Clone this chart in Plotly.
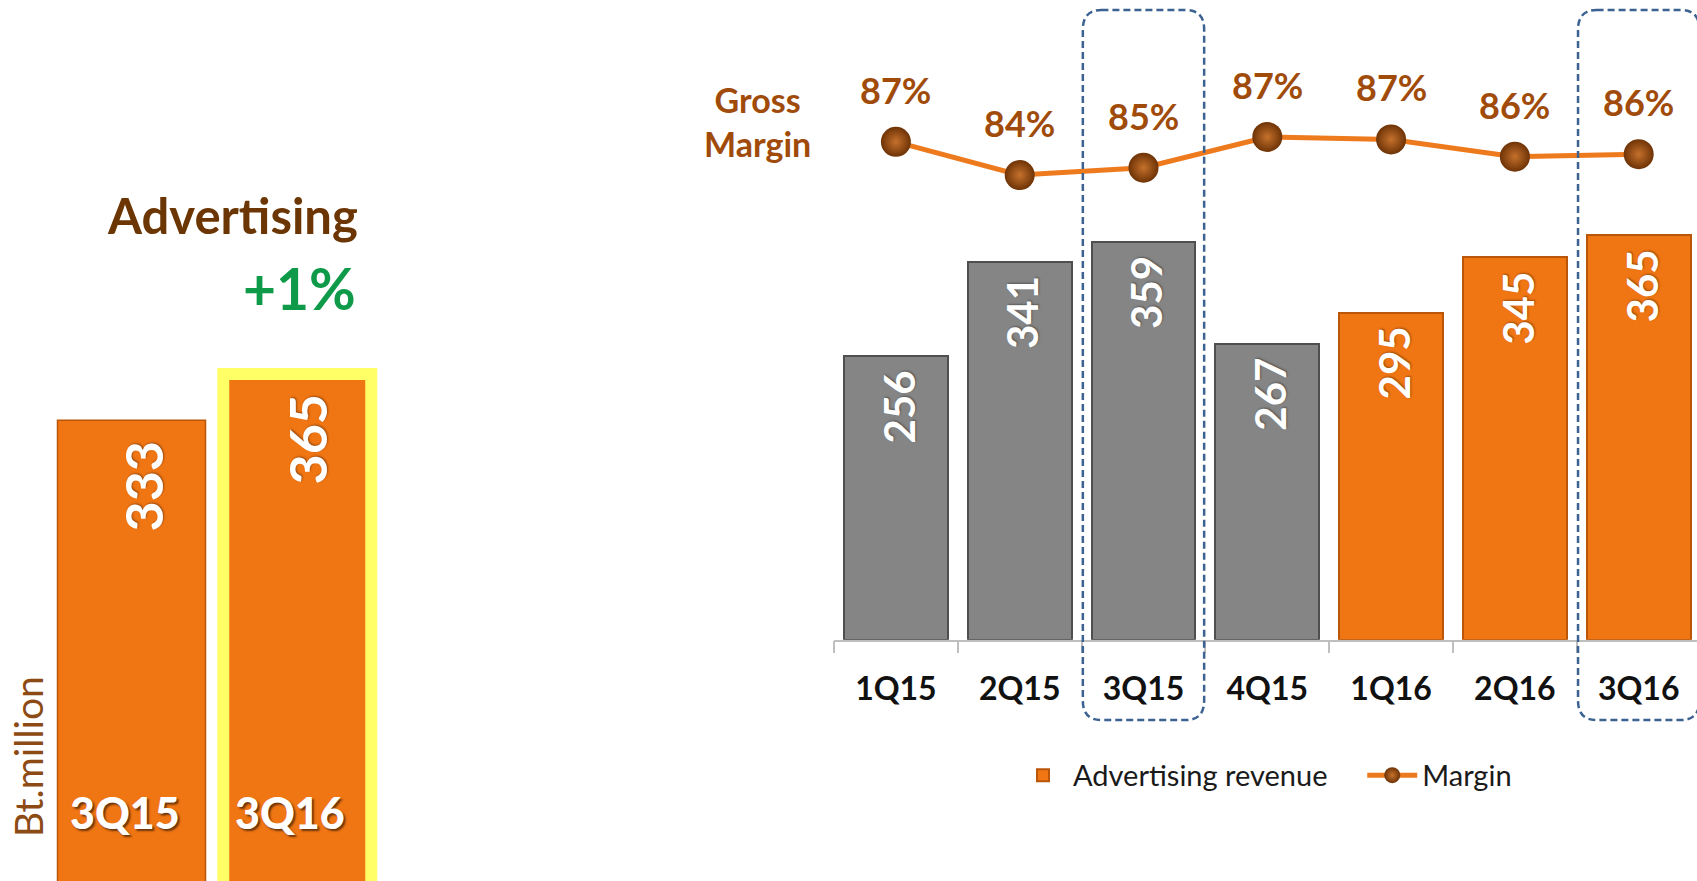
import plotly.graph_objects as go

# ---------------- data ----------------
quarters = ["1Q15", "2Q15", "3Q15", "4Q15", "1Q16", "2Q16", "3Q16"]
ad_revenue = [256, 341, 359, 267, 295, 345, 365]
margin_pct = [86.9, 84.2, 84.8, 87.3, 87.1, 85.7, 85.9]
margin_labels = ["87%", "84%", "85%", "87%", "87%", "86%", "86%"]
year_2015 = ["1Q15", "2Q15", "3Q15", "4Q15"]
year_2016 = ["1Q16", "2Q16", "3Q16"]
highlight = ["3Q15", "3Q16"]

yoy_quarters = ["3Q15", "3Q16"]
yoy_values = [333, 365]
title_text = "Advertising"
growth_text = "+1%"
unit_text = "Bt.million"
margin_title = "Gross<br>Margin"
bar_series_name = "Advertising revenue"
line_series_name = "Margin"

# ---------------- styles ----------------
ORANGE = "#F07513"
ORANGE_EDGE = "#B9560A"
GRAY = "#858585"
GRAY_EDGE = "#4F4F4F"
BROWN = "#A04B0A"
FONT = "Lato, 'Open Sans', sans-serif"
LEGEND_PAD = "\u00a0" * 4

fig = go.Figure()

# right chart: quarterly bars
g_x = [q for q in quarters if q in year_2015]
g_y = [v for q, v in zip(quarters, ad_revenue) if q in year_2015]
o_x = [q for q in quarters if q in year_2016]
o_y = [v for q, v in zip(quarters, ad_revenue) if q in year_2016]

fig.add_trace(go.Bar(x=g_x, y=g_y, width=0.84, marker=dict(color=GRAY, line=dict(color=GRAY_EDGE, width=2)),
                     showlegend=False, xaxis="x", yaxis="y", hoverinfo="skip"))
fig.add_trace(go.Bar(x=o_x, y=o_y, width=0.84, name=bar_series_name + LEGEND_PAD,
                     marker=dict(color=ORANGE, line=dict(color=ORANGE_EDGE, width=2)),
                     xaxis="x", yaxis="y", hoverinfo="skip"))
fig.add_trace(go.Scatter(x=quarters, y=margin_pct, name=line_series_name, mode="lines+markers",
                         line=dict(color="#EE7A1E", width=5),
                         marker=dict(size=30, color="#6E3306",
                                     gradient=dict(type="radial", color="#C5712C"),
                                     line=dict(width=0)),
                         xaxis="x", yaxis="y3", hoverinfo="skip"))

# left chart: year-on-year
fig.add_trace(go.Bar(x=yoy_quarters, y=yoy_values, width=0.9,
                     marker=dict(color=ORANGE,
                                 line=dict(color=[ORANGE_EDGE, "#FFFF66"], width=[1.5, 12])),
                     showlegend=False, xaxis="x2", yaxis="y2", hoverinfo="skip"))

annotations = []
# bar value labels (rotated)
for q, v in zip(quarters, ad_revenue):
    annotations.append(dict(x=q, y=v, xref="x", yref="y", text=str(v), textangle=-90,
                            showarrow=False, yanchor="top", xanchor="center", yshift=-12, xshift=3,
                            font=dict(family=FONT, size=42, color="white", weight="bold",
                                      shadow="1px 1px 2px rgba(0,0,0,0.35)")))
# margin labels
for q, m, lab in zip(quarters, margin_pct, margin_labels):
    annotations.append(dict(x=q, y=m, xref="x", yref="y3", text=lab, showarrow=False,
                            yanchor="bottom", xanchor="center", yshift=28,
                            font=dict(family=FONT, size=36, color=BROWN, weight="bold")))
# left chart value labels
for q, v in zip(yoy_quarters, yoy_values):
    annotations.append(dict(x=q, y=v, xref="x2", yref="y2", text=str(v), textangle=-90,
                            showarrow=False, yanchor="top", xanchor="center", yshift=-18, xshift=10,
                            font=dict(family=FONT, size=52, color="white", weight="bold",
                                      shadow="1px 1px 2px rgba(0,0,0,0.35)")))
    annotations.append(dict(x=q, y=0.0772, xref="x2", yref="paper", text=q, showarrow=False,
                            yanchor="middle", xanchor="center", xshift=-7,
                            font=dict(family=FONT, size=43, color="white", weight=900,
                                      shadow="2px 2px 2px rgba(0,0,0,0.55)")))

annotations += [
    dict(x=360 / 1697, y=0.7555, xref="paper", yref="paper", text=title_text, showarrow=False,
         xanchor="right", yanchor="middle",
         font=dict(family=FONT, size=49, color="#6B3604", weight="bold")),
    dict(x=358 / 1697, y=0.6727, xref="paper", yref="paper", text=growth_text, showarrow=False,
         xanchor="right", yanchor="middle",
         font=dict(family=FONT, size=57, color="#0E9A48", weight="bold")),
    dict(x=28 / 1697, y=0.1407, xref="paper", yref="paper", text=unit_text, showarrow=False,
         textangle=-90, xanchor="center", yanchor="middle",
         font=dict(family=FONT, size=39, color="#8C4A14")),
    dict(x=757 / 1697, y=0.8626, xref="paper", yref="paper", text=margin_title, showarrow=False,
         xanchor="center", yanchor="middle", align="center",
         font=dict(family=FONT, size=34, color=BROWN, weight="bold")),
]

# dashed rounded highlight boxes
shapes = []
for q in highlight:
    i = quarters.index(q)
    x0, x1 = i - 0.49, i + 0.49
    y0, y1 = 0.1827, 0.9886
    rx, ry = 0.15, 0.022
    path = (f"M{x0 + rx},{y1} L{x1 - rx},{y1} Q{x1},{y1} {x1},{y1 - ry} "
            f"L{x1},{y0 + ry} Q{x1},{y0} {x1 - rx},{y0} L{x0 + rx},{y0} "
            f"Q{x0},{y0} {x0},{y0 + ry} L{x0},{y1 - ry} Q{x0},{y1} {x0 + rx},{y1} Z")
    shapes.append(dict(type="path", path=path, xref="x", yref="paper",
                       line=dict(color="#3B6290", width=2.5, dash="7px,4px"), layer="above"))

fig.update_layout(
    width=1697, height=881, autosize=False,
    margin=dict(l=0, r=0, t=0, b=0),
    paper_bgcolor="white", plot_bgcolor="rgba(0,0,0,0)",
    barmode="overlay", bargap=0,
    showlegend=True,
    legend=dict(orientation="h", x=1013 / 1697, y=0.12, xanchor="left", yanchor="middle",
                font=dict(family=FONT, size=29, color="#1A1A1A"), itemwidth=50,
                bgcolor="rgba(0,0,0,0)"),
    xaxis=dict(domain=[834 / 1697, 1], type="category", categoryorder="array", categoryarray=quarters,
               range=[-0.5, 6.471], showline=True, linecolor="#BFBFBF", linewidth=1.5,
               ticks="outside", tickson="boundaries", ticklen=12, tickcolor="#BFBFBF", tickwidth=1.5,
               ticklabelstandoff=20, showgrid=False, zeroline=False,
               tickfont=dict(family=FONT, size=32, color="#111111", weight="bold")),
    yaxis=dict(domain=[0.2739, 1], range=[0, 577.3], visible=False, showgrid=False, zeroline=False),
    yaxis3=dict(domain=[0.2739, 1], range=[46.44, 98.43], overlaying="y", visible=False,
                showgrid=False, zeroline=False),
    xaxis2=dict(domain=[0.02961, 0.22348], type="category", categoryorder="array",
                categoryarray=yoy_quarters, range=[-0.5, 1.5], visible=False, anchor="y2"),
    yaxis2=dict(domain=[0, 1], range=[16.4, 622.7], visible=False, anchor="x2"),
    annotations=annotations,
    shapes=shapes,
)

fig.write_html("out.html", config={"displayModeBar": False},
               post_script="document.body.style.margin='0';document.body.style.overflow='hidden';")
